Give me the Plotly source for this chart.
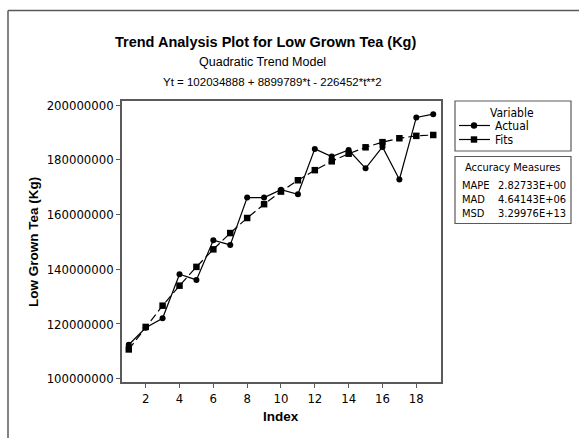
import plotly.graph_objects as go

# Time index and annual production of low grown tea (kg)
index = list(range(1, 20))
actual = [112.4e6, 118.6e6, 122.1e6, 138.2e6, 136.1e6, 150.6e6, 148.9e6, 166.2e6,
          166.2e6, 169.1e6, 167.4e6, 184.0e6, 181.2e6, 183.6e6, 176.9e6, 184.7e6,
          172.8e6, 195.5e6, 196.7e6]
# Fitted values of the quadratic trend Yt = 102034888 + 8899789*t - 226452*t**2
fits = [110708225, 118928658, 126696187, 134010812, 140872533, 147281350,
        153237263, 158740272, 163790377, 168387578, 172531875, 176223268,
        179461757, 182247342, 184580023, 186459800, 187886673, 188760642,
        189081707]

x_ticks = [2, 4, 6, 8, 10, 12, 14, 16, 18]
y_ticks = [100000000, 120000000, 140000000, 160000000, 180000000, 200000000]

measure_names = ["MAPE", "MAD", "MSD"]
measure_values = ["2.82733E+00", "4.64143E+06", "3.29976E+13"]

W, H = 579, 438
L, R, T, B = 122, 441, 101, 382
FONT = "DejaVu Sans Condensed, Liberation Sans, sans-serif"
TFONT = "Liberation Sans, Arial, sans-serif"
FRAME = "#5a5a5a"


def px(x):
    return (x - L) / (R - L)


def py(y):
    return (B - y) / (B - T)


fig = go.Figure()
fig.add_trace(go.Scatter(
    x=index, y=actual, mode="lines+markers", name="Actual",
    line=dict(color="black", width=1.2),
    marker=dict(symbol="circle", size=6, color="black"),
))
fig.add_trace(go.Scatter(
    x=index, y=fits, mode="lines+markers", name="Fits",
    line=dict(color="black", width=1.2, dash="8px,4px"),
    marker=dict(symbol="square", size=6.5, color="black"),
))

shapes = []
annotations = []

# outer page frame (top and left edges)
shapes.append(dict(type="line", xref="paper", yref="paper",
                   x0=px(8), x1=px(600), y0=py(10.5), y1=py(10.5),
                   line=dict(color=FRAME, width=1.5)))
shapes.append(dict(type="line", xref="paper", yref="paper",
                   x0=px(8), x1=px(8), y0=py(10.5), y1=py(460),
                   line=dict(color=FRAME, width=1.5)))

# legend box
shapes.append(dict(type="rect", xref="paper", yref="paper",
                   x0=px(455), x1=px(571), y0=py(101), y1=py(151),
                   line=dict(color=FRAME, width=1.2)))
annotations.append(dict(text="Variable", xref="paper", yref="paper",
                        x=px(512), y=py(112.5), showarrow=False,
                        xanchor="center", yanchor="middle",
                        font=dict(family=FONT, size=12, color="black")))
for name, sym, yy in [("Actual", "circle", 125.5), ("Fits", "square", 139.5)]:
    shapes.append(dict(type="line", xref="paper", yref="paper",
                       x0=px(459), x1=px(490), y0=py(yy), y1=py(yy),
                       line=dict(color="black", width=1.2)))
    half = 3.2
    shapes.append(dict(type="circle" if sym == "circle" else "rect",
                       xref="paper", yref="paper",
                       x0=px(474 - half), x1=px(474 + half),
                       y0=py(yy + half), y1=py(yy - half),
                       fillcolor="black", line=dict(color="black", width=0)))
    annotations.append(dict(text=name, xref="paper", yref="paper",
                            x=px(493), y=py(yy), showarrow=False,
                            xanchor="left", yanchor="middle",
                            font=dict(family=FONT, size=12, color="black")))

# accuracy measures box
shapes.append(dict(type="rect", xref="paper", yref="paper",
                   x0=px(455), x1=px(571), y0=py(156.5), y1=py(223.5),
                   line=dict(color=FRAME, width=1.2)))
annotations.append(dict(text="Accuracy Measures", xref="paper", yref="paper",
                        x=px(513), y=py(167.5), showarrow=False,
                        xanchor="center", yanchor="middle",
                        font=dict(family=FONT, size=11, color="black")))
for i, (nm, val) in enumerate(zip(measure_names, measure_values)):
    yy = 185.5 + 14 * i
    annotations.append(dict(text=nm, xref="paper", yref="paper",
                            x=px(460), y=py(yy), showarrow=False,
                            xanchor="left", yanchor="middle",
                            font=dict(family=FONT, size=11, color="black")))
    annotations.append(dict(text=val, xref="paper", yref="paper",
                            x=px(568), y=py(yy), showarrow=False,
                            xanchor="right", yanchor="middle",
                            font=dict(family=FONT, size=11, color="black")))

# titles
annotations.append(dict(text="<b>Trend Analysis Plot for Low Grown Tea (Kg)</b>",
                        xref="paper", yref="paper", x=px(265.5), y=py(42),
                        showarrow=False, xanchor="center", yanchor="middle",
                        font=dict(family=TFONT, size=14.5, color="black")))
annotations.append(dict(text="Quadratic Trend Model",
                        xref="paper", yref="paper", x=px(262), y=py(62),
                        showarrow=False, xanchor="center", yanchor="middle",
                        font=dict(family=TFONT, size=12.5, color="black")))
annotations.append(dict(text="Yt = 102034888 + 8899789*t - 226452*t**2",
                        xref="paper", yref="paper", x=px(272.5), y=py(81.5),
                        showarrow=False, xanchor="center", yanchor="middle",
                        font=dict(family=TFONT, size=11.5, color="black")))

# axis titles
annotations.append(dict(text="<b>Index</b>", xref="paper", yref="paper",
                        x=px(281), y=py(416.5), showarrow=False,
                        xanchor="center", yanchor="middle",
                        font=dict(family=TFONT, size=13.5, color="black")))
annotations.append(dict(text="<b>Low Grown Tea (Kg)</b>", xref="paper", yref="paper",
                        x=px(33), y=py(242), showarrow=False, textangle=-90,
                        xanchor="center", yanchor="middle",
                        font=dict(family=TFONT, size=13.5, color="black")))

fig.update_layout(
    width=W, height=H,
    margin=dict(l=L, r=W - R, t=T, b=H - B, pad=0),
    paper_bgcolor="white", plot_bgcolor="white",
    showlegend=False,
    font=dict(family=FONT, size=13, color="black"),
    shapes=shapes, annotations=annotations,
    xaxis=dict(range=[0.6, 19.46], tickvals=x_ticks, ticks="outside",
               ticklen=4, tickcolor=FRAME, tickwidth=1,
               showline=True, linecolor=FRAME, linewidth=1.5, mirror=True,
               showgrid=False, zeroline=False,
               tickfont=dict(family=FONT, size=13, color="black")),
    yaxis=dict(range=[98.8e6, 201.5e6], tickvals=y_ticks, tickformat="d",
               ticks="outside", ticklen=4, tickcolor=FRAME, tickwidth=1,
               showline=True, linecolor=FRAME, linewidth=1.5, mirror=True,
               showgrid=False, zeroline=False,
               tickfont=dict(family=FONT, size=13, color="black")),
)

fig.write_html("out.html")
